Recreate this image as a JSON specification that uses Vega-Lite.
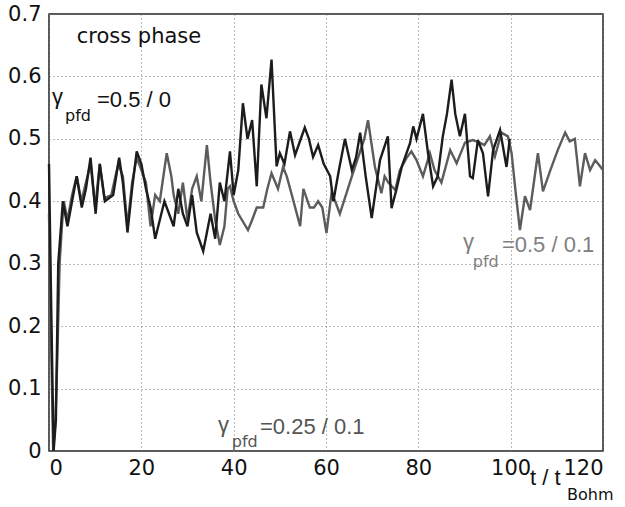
{
  "$schema": "https://vega.github.io/schema/vega-lite/v6.json",
  "width": 554,
  "height": 437,
  "autosize": {"type": "none"},
  "padding": {"left": 49, "top": 14, "right": 22, "bottom": 56},
  "background": "white",
  "config": {
    "font": "Liberation Sans",
    "view": {"stroke": "#222", "strokeWidth": 1.5},
    "axis": {
      "domain": false,
      "grid": true,
      "gridColor": "#777",
      "gridDash": [1, 3],
      "gridWidth": 1,
      "ticks": true,
      "tickColor": "#444",
      "labelFont": "DejaVu Sans",
      "labelFontSize": 21,
      "labelColor": "#111",
      "title": null
    }
  },
  "datasets": {
    "series": [
      {"s": "b", "t": 0, "v": 0.46}, {"s": "b", "t": 0.5, "v": 0.22}, {"s": "b", "t": 1.0, "v": 0.0}, {"s": "b", "t": 1.5, "v": 0.05},
      {"s": "b", "t": 2.0, "v": 0.30}, {"s": "b", "t": 3.0, "v": 0.40}, {"s": "b", "t": 4.0, "v": 0.36}, {"s": "b", "t": 5.0, "v": 0.40},
      {"s": "b", "t": 6.0, "v": 0.44}, {"s": "b", "t": 7.1, "v": 0.39}, {"s": "b", "t": 8.0, "v": 0.42}, {"s": "b", "t": 9.0, "v": 0.47},
      {"s": "b", "t": 10.1, "v": 0.38}, {"s": "b", "t": 11.0, "v": 0.46}, {"s": "b", "t": 12.1, "v": 0.40}, {"s": "b", "t": 13.9, "v": 0.41},
      {"s": "b", "t": 15.2, "v": 0.47}, {"s": "b", "t": 16.0, "v": 0.43}, {"s": "b", "t": 17.0, "v": 0.35}, {"s": "b", "t": 18.0, "v": 0.42},
      {"s": "b", "t": 19.0, "v": 0.48}, {"s": "b", "t": 20.0, "v": 0.46}, {"s": "b", "t": 21.0, "v": 0.42}, {"s": "b", "t": 22.0, "v": 0.39},
      {"s": "b", "t": 23.0, "v": 0.34}, {"s": "b", "t": 24.0, "v": 0.37}, {"s": "b", "t": 25.0, "v": 0.40}, {"s": "b", "t": 26.0, "v": 0.38},
      {"s": "b", "t": 27.0, "v": 0.36}, {"s": "b", "t": 28.0, "v": 0.42}, {"s": "b", "t": 29.0, "v": 0.38}, {"s": "b", "t": 30.0, "v": 0.36},
      {"s": "b", "t": 31.0, "v": 0.41}, {"s": "b", "t": 32.0, "v": 0.35}, {"s": "b", "t": 33.4, "v": 0.32}, {"s": "b", "t": 34.2, "v": 0.35},
      {"s": "b", "t": 35.0, "v": 0.38}, {"s": "b", "t": 36.0, "v": 0.34}, {"s": "b", "t": 37.0, "v": 0.43}, {"s": "b", "t": 38.0, "v": 0.40},
      {"s": "b", "t": 39.2, "v": 0.48}, {"s": "b", "t": 40.0, "v": 0.41}, {"s": "b", "t": 41.0, "v": 0.45}, {"s": "b", "t": 42.0, "v": 0.557},
      {"s": "b", "t": 43.0, "v": 0.50}, {"s": "b", "t": 44.0, "v": 0.53}, {"s": "b", "t": 45.0, "v": 0.424}, {"s": "b", "t": 46.0, "v": 0.587},
      {"s": "b", "t": 47.1, "v": 0.533}, {"s": "b", "t": 48.2, "v": 0.627}, {"s": "b", "t": 49.3, "v": 0.456}, {"s": "b", "t": 50.0, "v": 0.477},
      {"s": "b", "t": 51.0, "v": 0.46}, {"s": "b", "t": 52.2, "v": 0.512}, {"s": "b", "t": 53.3, "v": 0.474}, {"s": "b", "t": 54.3, "v": 0.495},
      {"s": "b", "t": 55.4, "v": 0.518}, {"s": "b", "t": 56.3, "v": 0.50}, {"s": "b", "t": 57.2, "v": 0.471}, {"s": "b", "t": 58.3, "v": 0.49},
      {"s": "b", "t": 59.5, "v": 0.46}, {"s": "b", "t": 60.9, "v": 0.44}, {"s": "b", "t": 61.6, "v": 0.40}, {"s": "b", "t": 62.8, "v": 0.45},
      {"s": "b", "t": 64.1, "v": 0.50}, {"s": "b", "t": 65.6, "v": 0.45}, {"s": "b", "t": 66.5, "v": 0.47}, {"s": "b", "t": 67.4, "v": 0.51},
      {"s": "b", "t": 68.6, "v": 0.44}, {"s": "b", "t": 69.9, "v": 0.373}, {"s": "b", "t": 71.7, "v": 0.466}, {"s": "b", "t": 73.4, "v": 0.504},
      {"s": "b", "t": 74.2, "v": 0.389}, {"s": "b", "t": 75.3, "v": 0.42}, {"s": "b", "t": 76.4, "v": 0.455}, {"s": "b", "t": 78.2, "v": 0.493},
      {"s": "b", "t": 78.9, "v": 0.52}, {"s": "b", "t": 79.6, "v": 0.50}, {"s": "b", "t": 81.0, "v": 0.54}, {"s": "b", "t": 82.1, "v": 0.477},
      {"s": "b", "t": 83.2, "v": 0.424}, {"s": "b", "t": 84.2, "v": 0.44}, {"s": "b", "t": 85.3, "v": 0.504}, {"s": "b", "t": 86.2, "v": 0.54},
      {"s": "b", "t": 87.2, "v": 0.595}, {"s": "b", "t": 88.0, "v": 0.54}, {"s": "b", "t": 89.0, "v": 0.504}, {"s": "b", "t": 90.1, "v": 0.54},
      {"s": "b", "t": 91.2, "v": 0.44}, {"s": "b", "t": 91.8, "v": 0.437}, {"s": "b", "t": 92.9, "v": 0.498}, {"s": "b", "t": 94.0, "v": 0.477},
      {"s": "b", "t": 95.1, "v": 0.408}, {"s": "b", "t": 96.2, "v": 0.482}, {"s": "b", "t": 97.7, "v": 0.514}, {"s": "b", "t": 99.1, "v": 0.455},
      {"s": "b", "t": 99.8, "v": 0.50},
      {"s": "g", "t": 0, "v": 0.38}, {"s": "g", "t": 0.4, "v": 0.2}, {"s": "g", "t": 0.9, "v": 0.0}, {"s": "g", "t": 1.4, "v": 0.05},
      {"s": "g", "t": 1.8, "v": 0.15}, {"s": "g", "t": 2.3, "v": 0.30}, {"s": "g", "t": 2.8, "v": 0.36}, {"s": "g", "t": 3.2, "v": 0.40},
      {"s": "g", "t": 4.0, "v": 0.37}, {"s": "g", "t": 5.0, "v": 0.41}, {"s": "g", "t": 6.0, "v": 0.44}, {"s": "g", "t": 7.0, "v": 0.40},
      {"s": "g", "t": 8.0, "v": 0.43}, {"s": "g", "t": 9.0, "v": 0.46}, {"s": "g", "t": 10.0, "v": 0.39}, {"s": "g", "t": 11.0, "v": 0.46},
      {"s": "g", "t": 12.0, "v": 0.405}, {"s": "g", "t": 13.5, "v": 0.41}, {"s": "g", "t": 15.0, "v": 0.46}, {"s": "g", "t": 16.0, "v": 0.44},
      {"s": "g", "t": 17.0, "v": 0.36}, {"s": "g", "t": 18.0, "v": 0.43}, {"s": "g", "t": 19.0, "v": 0.47}, {"s": "g", "t": 20.0, "v": 0.45},
      {"s": "g", "t": 21.0, "v": 0.43}, {"s": "g", "t": 22.0, "v": 0.36}, {"s": "g", "t": 23.0, "v": 0.41}, {"s": "g", "t": 24.0, "v": 0.40},
      {"s": "g", "t": 25.5, "v": 0.477}, {"s": "g", "t": 26.5, "v": 0.44}, {"s": "g", "t": 27.0, "v": 0.41}, {"s": "g", "t": 28.0, "v": 0.38},
      {"s": "g", "t": 29.0, "v": 0.43}, {"s": "g", "t": 30.0, "v": 0.37}, {"s": "g", "t": 31.0, "v": 0.42}, {"s": "g", "t": 32.0, "v": 0.44},
      {"s": "g", "t": 33.0, "v": 0.40}, {"s": "g", "t": 34.2, "v": 0.49}, {"s": "g", "t": 35.0, "v": 0.43}, {"s": "g", "t": 36.0, "v": 0.37},
      {"s": "g", "t": 37.0, "v": 0.33}, {"s": "g", "t": 38.0, "v": 0.36}, {"s": "g", "t": 38.7, "v": 0.42}, {"s": "g", "t": 39.2, "v": 0.424},
      {"s": "g", "t": 40.0, "v": 0.40}, {"s": "g", "t": 41.0, "v": 0.38}, {"s": "g", "t": 43.1, "v": 0.354}, {"s": "g", "t": 44.0, "v": 0.37},
      {"s": "g", "t": 45.0, "v": 0.39}, {"s": "g", "t": 46.4, "v": 0.39}, {"s": "g", "t": 47.3, "v": 0.42}, {"s": "g", "t": 48.2, "v": 0.445},
      {"s": "g", "t": 49.6, "v": 0.42}, {"s": "g", "t": 50.7, "v": 0.455}, {"s": "g", "t": 51.5, "v": 0.44}, {"s": "g", "t": 52.6, "v": 0.41},
      {"s": "g", "t": 53.5, "v": 0.385}, {"s": "g", "t": 54.4, "v": 0.36}, {"s": "g", "t": 55.1, "v": 0.42}, {"s": "g", "t": 56.5, "v": 0.39},
      {"s": "g", "t": 57.4, "v": 0.39}, {"s": "g", "t": 58.3, "v": 0.40}, {"s": "g", "t": 59.2, "v": 0.39}, {"s": "g", "t": 60.1, "v": 0.349},
      {"s": "g", "t": 61.2, "v": 0.413}, {"s": "g", "t": 62.0, "v": 0.40}, {"s": "g", "t": 63.0, "v": 0.38}, {"s": "g", "t": 64.3, "v": 0.41},
      {"s": "g", "t": 65.6, "v": 0.44}, {"s": "g", "t": 66.5, "v": 0.46}, {"s": "g", "t": 67.4, "v": 0.48}, {"s": "g", "t": 68.3, "v": 0.50},
      {"s": "g", "t": 69.1, "v": 0.53}, {"s": "g", "t": 70.6, "v": 0.455}, {"s": "g", "t": 72.0, "v": 0.413}, {"s": "g", "t": 72.7, "v": 0.44},
      {"s": "g", "t": 73.5, "v": 0.43}, {"s": "g", "t": 75.0, "v": 0.418}, {"s": "g", "t": 76.0, "v": 0.45}, {"s": "g", "t": 77.5, "v": 0.47},
      {"s": "g", "t": 78.5, "v": 0.48}, {"s": "g", "t": 79.6, "v": 0.466}, {"s": "g", "t": 81.0, "v": 0.44}, {"s": "g", "t": 82.5, "v": 0.477},
      {"s": "g", "t": 83.5, "v": 0.45}, {"s": "g", "t": 85.0, "v": 0.43}, {"s": "g", "t": 86.9, "v": 0.482}, {"s": "g", "t": 88.3, "v": 0.461},
      {"s": "g", "t": 90.1, "v": 0.494}, {"s": "g", "t": 91.8, "v": 0.498}, {"s": "g", "t": 93.3, "v": 0.494}, {"s": "g", "t": 94.3, "v": 0.49},
      {"s": "g", "t": 95.5, "v": 0.504}, {"s": "g", "t": 96.6, "v": 0.472}, {"s": "g", "t": 98.0, "v": 0.51}, {"s": "g", "t": 99.4, "v": 0.504},
      {"s": "g", "t": 100.2, "v": 0.477}, {"s": "g", "t": 101.0, "v": 0.42}, {"s": "g", "t": 102.0, "v": 0.354}, {"s": "g", "t": 103.1, "v": 0.408},
      {"s": "g", "t": 104.2, "v": 0.386}, {"s": "g", "t": 105.9, "v": 0.477}, {"s": "g", "t": 107.0, "v": 0.416}, {"s": "g", "t": 108.6, "v": 0.45},
      {"s": "g", "t": 110.2, "v": 0.482}, {"s": "g", "t": 111.8, "v": 0.51}, {"s": "g", "t": 112.8, "v": 0.496}, {"s": "g", "t": 113.9, "v": 0.50},
      {"s": "g", "t": 115.0, "v": 0.424}, {"s": "g", "t": 116.1, "v": 0.477}, {"s": "g", "t": 117.2, "v": 0.45}, {"s": "g", "t": 118.3, "v": 0.466},
      {"s": "g", "t": 119.7, "v": 0.453}, {"s": "g", "t": 120.0, "v": 0.45}
    ],
    "title": [
      {"t": 6.0, "v": 0.663, "txt": "cross phase"}
    ],
    "labels": [
      {"t": 0.65, "v": 0.567, "txt": "γ", "run": "0.5/0", "part": "main"},
      {"t": 3.47, "v": 0.537, "txt": "pfd", "run": "0.5/0", "part": "sub"},
      {"t": 10.4, "v": 0.5625, "txt": "=0.5 / 0", "run": "0.5/0", "part": "main"},
      {"t": 89.7, "v": 0.335, "txt": "γ", "run": "0.5/0.1", "part": "main"},
      {"t": 91.8, "v": 0.303, "txt": "pfd", "run": "0.5/0.1", "part": "sub"},
      {"t": 98.1, "v": 0.33, "txt": "=0.5 / 0.1", "run": "0.5/0.1", "part": "main"},
      {"t": 36.6, "v": 0.042, "txt": "γ", "run": "0.25/0.1", "part": "main"},
      {"t": 39.6, "v": 0.014, "txt": "pfd", "run": "0.25/0.1", "part": "sub"},
      {"t": 45.7, "v": 0.038, "txt": "=0.25 / 0.1", "run": "0.25/0.1", "part": "main"},
      {"t": 104.2, "v": -0.043, "txt": "t / t", "run": "axis", "part": "main"},
      {"t": 112.2, "v": -0.07, "txt": "Bohm", "run": "axis", "part": "sub"}
    ]
  },
  "layer": [
    {
      "data": {"name": "series"},
      "transform": [{"filter": "datum.s === 'g'"}],
      "mark": {"type": "line", "color": "#5c5c5c", "strokeWidth": 2.4},
      "encoding": {
        "x": {"field": "t", "type": "quantitative", "scale": {"domain": [0, 120], "nice": false}, "axis": {"values": [0, 20, 40, 60, 80, 100, 120], "labelPadding": 6, "tickSize": 0}},
        "y": {"field": "v", "type": "quantitative", "scale": {"domain": [0, 0.7], "nice": false, "zero": false}, "axis": {"values": [0, 0.1, 0.2, 0.3, 0.4, 0.5, 0.6, 0.7], "format": ".1~f", "labelPadding": 8, "tickSize": 0}},
        "order": {"field": "t", "type": "quantitative"}
      }
    },
    {
      "data": {"name": "series"},
      "transform": [{"filter": "datum.s === 'b'"}],
      "mark": {"type": "line", "color": "#1c1c1c", "strokeWidth": 2.4},
      "encoding": {
        "x": {"field": "t", "type": "quantitative"},
        "y": {"field": "v", "type": "quantitative"},
        "order": {"field": "t", "type": "quantitative"}
      }
    },
    {
      "data": {"name": "title"},
      "mark": {"type": "text", "align": "left", "baseline": "middle", "fontSize": 21, "font": "DejaVu Sans", "color": "#111"},
      "encoding": {
        "x": {"field": "t", "type": "quantitative"},
        "y": {"field": "v", "type": "quantitative"},
        "text": {"field": "txt"}
      }
    },
    {
      "data": {"name": "labels"},
      "transform": [{"filter": "datum.part === 'main'"}],
      "mark": {"type": "text", "align": "left", "baseline": "middle", "fontSize": 22, "font": "Liberation Sans"},
      "encoding": {
        "x": {"field": "t", "type": "quantitative"},
        "y": {"field": "v", "type": "quantitative"},
        "text": {"field": "txt"},
        "color": {"field": "run", "type": "nominal", "scale": {"domain": ["0.5/0", "0.5/0.1", "0.25/0.1", "axis"], "range": ["#111111", "#808080", "#555555", "#111111"]}, "legend": null}
      }
    },
    {
      "data": {"name": "labels"},
      "transform": [{"filter": "datum.part === 'sub'"}],
      "mark": {"type": "text", "align": "left", "baseline": "middle", "fontSize": 16, "font": "DejaVu Sans"},
      "encoding": {
        "x": {"field": "t", "type": "quantitative"},
        "y": {"field": "v", "type": "quantitative"},
        "text": {"field": "txt"},
        "color": {"field": "run", "type": "nominal", "scale": {"domain": ["0.5/0", "0.5/0.1", "0.25/0.1", "axis"], "range": ["#111111", "#808080", "#555555", "#111111"]}, "legend": null}
      }
    }
  ]
}
